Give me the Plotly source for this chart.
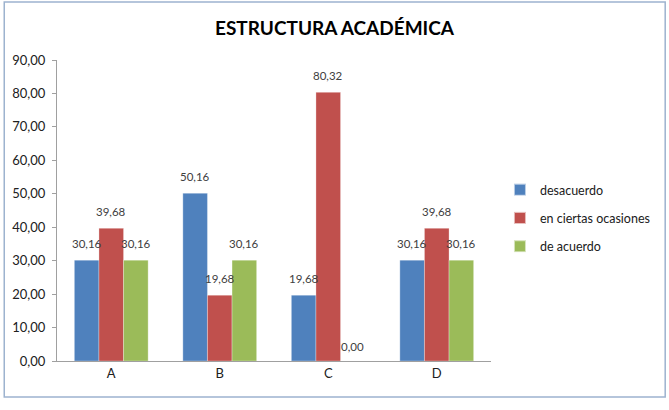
import plotly.graph_objects as go

categories = ["A", "B", "C", "D"]
desacuerdo = [30.16, 50.16, 19.68, 30.16]
en_ciertas = [39.68, 19.68, 80.32, 39.68]
de_acuerdo = [30.16, 30.16, 0.00, 30.16]
y_ticks = [0, 10, 20, 30, 40, 50, 60, 70, 80, 90]

series = [
    ("desacuerdo", desacuerdo, "#4F81BD"),
    ("en ciertas ocasiones", en_ciertas, "#C0504D"),
    ("de acuerdo", de_acuerdo, "#9BBB59"),
]

L, R, T, B = 55, 178, 60, 49
W, H = 669, 410
pw, ph = W - L - R, H - T - B
BARGAP = 0.32
bar_px = pw / len(categories) * (1 - BARGAP) / len(series)

fig = go.Figure()
annotations = []
for i, (name, vals, col) in enumerate(series):
    fig.add_trace(go.Bar(
        x=categories, y=vals, name=name, legendgroup=name,
        marker=dict(color=col, line=dict(color="rgba(255,255,255,0.6)", width=0.5)),
    ))
    for c, v in zip(categories, vals):
        annotations.append(dict(
            x=c, y=v, xref="x", yref="y", text=f"{v:.2f}".replace(".", ","),
            showarrow=False, xanchor="center", yanchor="bottom",
            xshift=(i - 1) * bar_px, yshift=8 if v > 0 else 6,
            font=dict(size=11.5, color="#404040"),
        ))

fig.update_layout(
    width=W, height=H,
    margin=dict(l=L, r=R, t=T, b=B),
    paper_bgcolor="white", plot_bgcolor="white",
    separators=",.",
    font=dict(family="Lato, Open Sans, sans-serif", color="#202020"),
    title=dict(text="<b>ESTRUCTURA ACADÉMICA</b>", x=0.5, xanchor="center",
               y=1 - 28 / H, yanchor="middle", font=dict(size=19, color="#000000")),
    barmode="group", bargap=BARGAP, bargroupgap=0,
    showlegend=True,
    legend=dict(x=(500 - L) / pw, xanchor="left", y=(H - B - 218) / ph, yanchor="middle",
                font=dict(size=12.5, color="#202020"), tracegroupgap=9,
                itemsizing="constant", itemwidth=30),
    xaxis=dict(showline=True, linecolor="#A0A0A0", linewidth=1,
               tickfont=dict(size=13), ticks="", showgrid=False),
    yaxis=dict(range=[0, 90], tickvals=y_ticks, tickformat=".2f",
               showline=True, linecolor="#A0A0A0", linewidth=1,
               ticks="outside", ticklen=4, tickcolor="#A0A0A0",
               ticklabelstandoff=4,
               tickfont=dict(size=13), showgrid=False, zeroline=False),
    annotations=annotations,
    shapes=[dict(type="rect", xref="paper", yref="paper",
                 x0=(2 - L) / pw, x1=(666 - L) / pw,
                 y0=-(397 - (H - B)) / ph, y1=1 + (T - 2) / ph,
                 line=dict(color="#9DB3CF", width=1.5), fillcolor="rgba(0,0,0,0)")],
)

fig.write_html("out.html")
